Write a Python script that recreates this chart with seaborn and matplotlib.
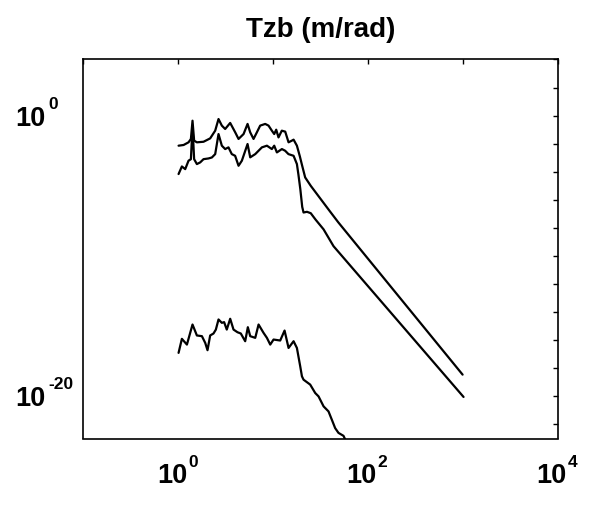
import numpy as np
import pandas as pd
import matplotlib
matplotlib.use("Agg")
import matplotlib.pyplot as plt
import seaborn as sns
from matplotlib.ticker import FixedLocator, NullFormatter, NullLocator

# ---- data (log10 of frequency, log10 of magnitude) ----
freq_exp_upper = [0.007, 0.06, 0.112, 0.137, 0.154, 0.171, 0.20, 0.27, 0.34, 0.393,
                  0.428, 0.463, 0.498, 0.551, 0.604, 0.639, 0.692, 0.734, 0.762, 0.797,
                  0.832, 0.867, 0.920, 0.955, 0.990, 1.015, 1.036, 1.060, 1.095, 1.131,
                  1.166, 1.201, 1.219, 1.254, 1.285, 1.307, 1.341, 1.40, 1.50, 1.60,
                  1.69, 3.0]
mag_exp_upper = [-2.14, -2.09, -1.90, -1.66, -0.36, -1.78, -1.90, -1.86, -1.62, -1.07,
                 -0.24, -0.71, -0.95, -0.52, -1.19, -1.66, -1.31, -0.59, -1.19, -1.66,
                 -1.19, -0.71, -0.59, -0.71, -1.07, -1.31, -1.00, -1.55, -1.07, -1.14,
                 -1.90, -1.78, -1.71, -2.14, -2.9, -3.5, -4.4, -5.0, -5.9, -6.8,
                 -7.6, -18.45]

freq_exp_middle = [0.007, 0.042, 0.077, 0.112, 0.137, 0.154, 0.171, 0.20, 0.235, 0.27,
                   0.322, 0.358, 0.393, 0.428, 0.463, 0.498, 0.533, 0.568, 0.603, 0.639,
                   0.674, 0.734, 0.762, 0.815, 0.885, 0.938, 0.990, 1.015, 1.043, 1.096,
                   1.130, 1.165, 1.219, 1.254, 1.27, 1.29, 1.31, 1.324, 1.36, 1.40,
                   1.45, 1.535, 1.64, 3.01]
mag_exp_middle = [-4.16, -3.62, -3.81, -3.21, -3.10, -0.75, -3.10, -3.45, -3.33, -3.10,
                  -3.05, -2.98, -2.74, -1.31, -2.14, -2.38, -2.26, -2.74, -2.86, -3.57,
                  -3.21, -2.02, -2.97, -2.74, -2.26, -2.14, -2.38, -2.14, -2.62, -2.38,
                  -2.50, -2.74, -2.86, -3.45, -4.2, -5.24, -6.5, -6.9, -6.85, -6.95,
                  -7.4, -8.1, -9.3, -20.04]

freq_exp_lower = [0.007, 0.042, 0.095, 0.154, 0.20, 0.253, 0.288, 0.312, 0.340, 0.375,
                  0.400, 0.428, 0.463, 0.487, 0.515, 0.551, 0.586, 0.628, 0.663, 0.709,
                  0.737, 0.762, 0.815, 0.850, 0.902, 0.938, 0.973, 1.008, 1.078, 1.124,
                  1.166, 1.219, 1.254, 1.289, 1.307, 1.324, 1.394, 1.447, 1.482, 1.535,
                  1.587, 1.622, 1.657, 1.692, 1.745, 1.80]
mag_exp_lower = [-16.90, -15.90, -16.31, -14.88, -15.66, -15.71, -16.19, -16.71, -15.66, -15.52,
                 -15.24, -14.52, -14.76, -14.71, -15.24, -14.47, -15.24, -15.43, -15.52, -16.07,
                 -15.07, -15.71, -15.83, -14.88, -15.47, -15.83, -16.31, -15.95, -16.02, -15.31,
                 -16.55, -16.07, -16.55, -17.86, -18.57, -18.81, -19.16, -19.76, -20.00, -20.71,
                 -21.07, -21.66, -22.26, -22.60, -22.81, -23.6]

x_tick_exps = [-1, 0, 1, 2, 3, 4]
x_label_exps = [0, 2, 4]
y_tick_exps = [-22, -20, -18, -16, -14, -12, -10, -8, -6, -4, -2, 0, 2, 4]
y_label_exps = [-20, 0]
title_text = "Tzb (m/rad)"

# ---- build table ----
frames = []
for name, fx, my in [("upper", freq_exp_upper, mag_exp_upper),
                     ("middle", freq_exp_middle, mag_exp_middle),
                     ("lower", freq_exp_lower, mag_exp_lower)]:
    frames.append(pd.DataFrame({"curve": name,
                                "freq": 10.0 ** np.asarray(fx),
                                "mag": 10.0 ** np.asarray(my)}))
df = pd.concat(frames, ignore_index=True)

sns.set_theme(style="white")
plt.rcParams["font.family"] = ["Liberation Sans", "DejaVu Sans"]

W, H = 589, 507
DPI = 100
PT = 72.0 / DPI  # points per pixel
fig = plt.figure(figsize=(W / DPI, H / DPI), dpi=DPI)
ax = fig.add_axes([83 / W, 1 - 438.5 / H, (557.5 - 83) / W, (438.5 - 59.5) / H])

sns.lineplot(data=df, x="freq", y="mag", units="curve", estimator=None, sort=False,
             color="black", linewidth=1.6, legend=False, ax=ax)

ax.set_xscale("log")
ax.set_yscale("log")
ax.set_xlim(1e-1, 1e4)
ax.set_ylim(1e-23, 1e4)
ax.set_xlabel("")
ax.set_ylabel("")

ax.xaxis.set_major_locator(FixedLocator([10.0 ** k for k in x_tick_exps]))
ax.xaxis.set_major_formatter(NullFormatter())
ax.xaxis.set_minor_locator(NullLocator())
ax.yaxis.set_major_locator(FixedLocator([10.0 ** k for k in y_tick_exps]))
ax.yaxis.set_major_formatter(NullFormatter())
ax.yaxis.set_minor_locator(NullLocator())

ax.tick_params(axis="both", which="major", direction="in", length=3.5, width=1,
               top=True, right=True, colors="black")

BASE_FS = 19.5
EXP_FS = 12.5
lab_kw = dict(fontweight="bold", color="black", annotation_clip=False)

# x tick labels: "10" with raised exponent
for k in x_label_exps:
    ax.annotate("10", xy=(10.0 ** k, 0), xycoords=("data", "axes fraction"),
                xytext=(-6 * PT, -44.5 * PT), textcoords="offset points",
                ha="center", va="baseline", fontsize=BASE_FS, **lab_kw)
    ax.annotate(str(k), xy=(10.0 ** k, 0), xycoords=("data", "axes fraction"),
                xytext=(10 * PT, -28.5 * PT), textcoords="offset points",
                ha="left", va="baseline", fontsize=EXP_FS, **lab_kw)

# y tick labels: left aligned far from the axis
for k in y_label_exps:
    ax.annotate("10", xy=(0, 10.0 ** k), xycoords=("axes fraction", "data"),
                xytext=(-68 * PT, -10 * PT), textcoords="offset points",
                ha="left", va="baseline", fontsize=BASE_FS, **lab_kw)
    ax.annotate(str(k), xy=(0, 10.0 ** k), xycoords=("axes fraction", "data"),
                xytext=(-35 * PT, 7 * PT), textcoords="offset points",
                ha="left", va="baseline", fontsize=EXP_FS, **lab_kw)

for sp in ax.spines.values():
    sp.set_visible(True)
    sp.set_color("black")
    sp.set_linewidth(1.2)

ax.set_title(title_text, fontsize=20, fontweight="bold", pad=16, color="black")

fig.savefig("out.png", dpi=DPI, facecolor="white")
